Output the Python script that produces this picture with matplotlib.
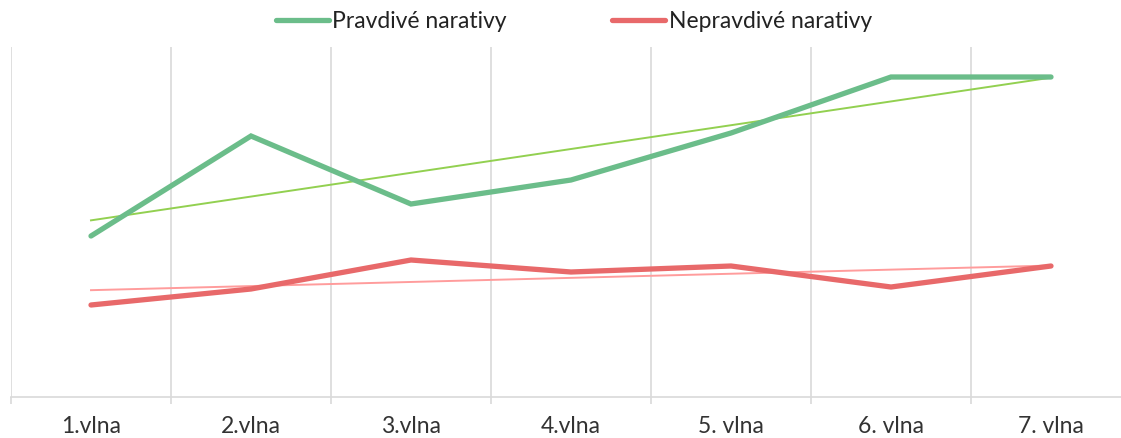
import numpy as np
import matplotlib
matplotlib.use('Agg')
import matplotlib.pyplot as plt

plt.rcParams['font.family'] = ['Lato', 'DejaVu Sans']

# categories (waves)
waves = ['1.vlna', '2.vlna', '3.vlna', '4.vlna', '5. vlna', '6. vlna', '7. vlna']

# values (no y scale shown)
true_narr = [32.2, 52.2, 38.6, 43.4, 52.8, 64.0, 64.0]
false_narr = [18.4, 21.6, 27.4, 25.0, 26.2, 22.0, 26.2]

x = np.arange(len(waves))

fig = plt.figure(figsize=(11.21, 4.38), dpi=100)
ax = fig.add_axes([11 / 1121, 1 - 397 / 438, 1120 / 1121, 350 / 438])

# main lines
ax.plot(x, true_narr, color='#6BBD8A', lw=3.8, solid_capstyle='round',
        solid_joinstyle='miter', label='Pravdivé narativy', zorder=3)
ax.plot(x, false_narr, color='#E8696A', lw=3.8, solid_capstyle='round',
        solid_joinstyle='miter', label='Nepravdivé narativy', zorder=3)

# linear trendlines
k, q = np.polyfit(x, true_narr, 1)
ax.plot(x, k * x + q, color='#92D050', lw=1.4, zorder=2)
k, q = np.polyfit(x, false_narr, 1)
ax.plot(x, k * x + q, color='#FF9C9C', lw=1.4, zorder=2)

ax.set_xlim(-0.5, len(waves) - 0.5)
ax.set_ylim(0, 70)

ax.set_xticks(x)
ax.set_xticklabels(waves, fontsize=16.5, color='#333333')
ax.set_xticks(np.arange(len(waves) + 1) - 0.5, minor=True)
ax.tick_params(axis='x', which='major', length=0, pad=14)
ax.tick_params(axis='x', which='minor', length=5, color='#D9D9D9', width=1.2)
ax.grid(True, axis='x', which='minor', color='#D9D9D9', lw=1.2)
ax.set_yticks([])

for s in ['top', 'right', 'left']:
    ax.spines[s].set_visible(False)
ax.spines['bottom'].set_color('#D9D9D9')
ax.spines['bottom'].set_linewidth(1.2)

fig.legend(loc='center', bbox_to_anchor=(574 / 1121, 1 - 22 / 438), ncol=2,
           frameon=False, fontsize=16.5, handlelength=2.3, handletextpad=0.15,
           columnspacing=4.6, labelcolor='#222222')

fig.savefig('out.png', dpi=100)
